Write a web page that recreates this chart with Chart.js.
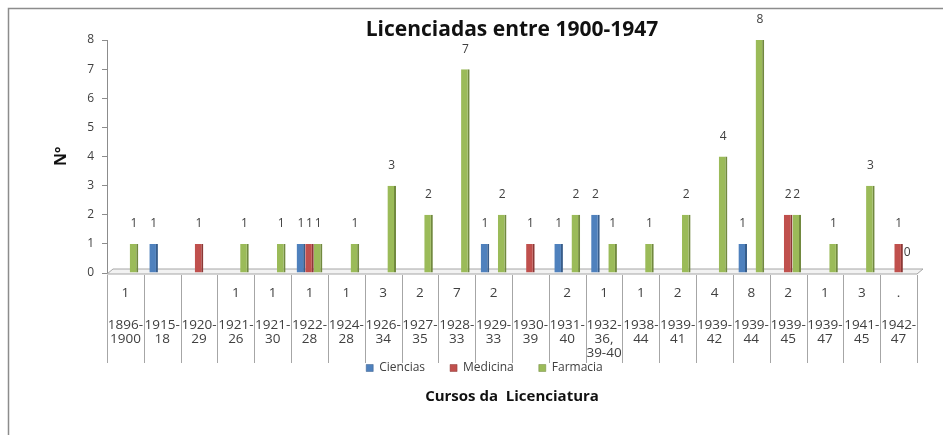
<!DOCTYPE html>
<html>
<head>
<meta charset="utf-8">
<script src="https://cdn.jsdelivr.net/npm/chart.js@4.4.1/dist/chart.umd.min.js"></script>
<style>
  html, body { margin: 0; padding: 0; background: #fff; }
  #wrap { width: 943px; height: 435px; }
</style>
</head>
<body>
<div id="wrap"><canvas id="chart"></canvas></div>
<script>
// cursos (periodos) - one column each in the data table
const cursos = [
  ["1896-", "1900"], ["1915-", "18"], ["1920-", "29"], ["1921-", "26"], ["1921-", "30"],
  ["1922-", "28"], ["1924-", "28"], ["1926-", "34"], ["1927-", "35"], ["1928-", "33"],
  ["1929-", "33"], ["1930-", "39"], ["1931-", "40"], ["1932-", "36,", "39-40"], ["1938-", "44"],
  ["1939-", "41"], ["1939-", "42"], ["1939-", "44"], ["1939-", "45"], ["1939-", "47"],
  ["1941-", "45"], ["1942-", "47"]
];
const ciencias = [null, 1, null, null, null, 1, null, null, null, null, 1, null, 1, 2, null, null, null, 1, null, null, null, null];
const medicina = [null, null, 1, null, null, 1, null, null, null, null, null, 1, null, null, null, null, null, null, 2, null, null, 1];
const farmacia = [1, null, null, 1, 1, 1, 1, 3, 2, 7, 2, null, 2, 1, 1, 2, 4, 8, 2, 1, 3, 0];
// row shown in the table under the axis
const tabela = ["1", "", "", "1", "1", "1", "1", "3", "2", "7", "2", "", "2", "1", "1", "2", "4", "8", "2", "1", "3", "."];
const yMin = 0, yMax = 8, yStep = 1;

const FONT = "'Open Sans', sans-serif";
const TXT = "#404040";
const LINE = "#a6a6a6";

const decor = {
  id: "decor",
  beforeDraw(chart) {
    const { ctx, width, height } = chart;
    ctx.save();
    ctx.fillStyle = "#fff";
    ctx.fillRect(0, 0, width, height);
    ctx.strokeStyle = "#8c8c8c";
    ctx.lineWidth = 1.5;
    ctx.beginPath();
    ctx.moveTo(8.5, height);
    ctx.lineTo(8.5, 8.5);
    ctx.lineTo(width, 8.5);
    ctx.stroke();
    ctx.restore();
  },
  beforeDatasetsDraw(chart) {
    // flat 3d floor
    const { ctx, chartArea: a, scales: { y } } = chart;
    const y0 = y.getPixelForValue(0);
    ctx.save();
    ctx.fillStyle = "#f2f2f2";
    ctx.strokeStyle = LINE;
    ctx.lineWidth = 1;
    ctx.beginPath();
    ctx.moveTo(a.left, y0 + 1);
    ctx.lineTo(a.right, y0 + 1);
    ctx.lineTo(a.right + 6, y0 - 4);
    ctx.lineTo(a.left + 6, y0 - 4);
    ctx.closePath();
    ctx.fill();
    ctx.stroke();
    ctx.restore();
  },
  afterDatasetsDraw(chart) {
    const { ctx } = chart;
    ctx.save();
    ctx.font = "12px " + FONT;
    ctx.fillStyle = TXT;
    ctx.textAlign = "center";
    ctx.textBaseline = "middle";
    chart.data.datasets.forEach((ds, i) => {
      chart.getDatasetMeta(i).data.forEach((bar, j) => {
        if (ds.data[j] === null) return;
        ctx.fillText(String(ds.data[j]), bar.x, bar.y - 20);
      });
    });
    ctx.restore();
  },
  afterDraw(chart) {
    const { ctx, chartArea: a, scales: { x, y } } = chart;
    const y0 = y.getPixelForValue(0);
    const step = x.getPixelForValue(1) - x.getPixelForValue(0);
    ctx.save();

    // table lines
    ctx.strokeStyle = LINE;
    ctx.lineWidth = 1;
    ctx.beginPath();
    for (let i = 0; i <= cursos.length; i++) {
      const px = Math.round(x.getPixelForValue(i) - step / 2) + 0.5;
      ctx.moveTo(px, y0 + 2);
      ctx.lineTo(px, y0 + 90);
    }
    ctx.stroke();

    // table text
    ctx.fillStyle = TXT;
    ctx.textAlign = "center";
    ctx.textBaseline = "middle";
    ctx.font = "13.5px " + FONT;
    cursos.forEach((c, i) => {
      const px = x.getPixelForValue(i);
      ctx.fillText(tabela[i], px, y0 + 20);
      c.forEach((line, k) => ctx.fillText(line, px, y0 + 52 + k * 14));
    });

    // titles
    const cx = (a.left + a.right) / 2;
    ctx.fillStyle = "#111";
    ctx.font = "bold 21px " + FONT;
    ctx.fillText("Licenciadas entre 1900-1947", cx, 30);
    ctx.font = "bold 15px " + FONT;
    ctx.fillText("Cursos da  Licenciatura", cx, 397);
    ctx.restore();
  }
};

const barStyle = (fill, side) => ({
  backgroundColor: fill,
  borderColor: side,
  borderWidth: { top: 0, right: 2, bottom: 0, left: 0 },
  categoryPercentage: 0.7,
  barPercentage: 1.0
});

new Chart(document.getElementById("chart"), {
  type: "bar",
  data: {
    labels: cursos.map((c) => c.join(" ")),
    datasets: [
      { label: "Ciencias", data: ciencias, ...barStyle("#4f81bd", "#385d8a") },
      { label: "Medicina", data: medicina, ...barStyle("#c0504d", "#8c3836") },
      { label: "Farmacia", data: farmacia, ...barStyle("#9bbb59", "#71893f") }
    ]
  },
  options: {
    responsive: true,
    maintainAspectRatio: false,
    animation: false,
    layout: { padding: { left: 52, right: 26, top: 40, bottom: 51 } },
    plugins: {
      tooltip: { enabled: false },
      legend: {
        position: "bottom",
        labels: {
          boxWidth: 7,
          boxHeight: 7,
          padding: 25,
          color: TXT,
          font: { size: 12, family: FONT }
        }
      }
    },
    scales: {
      x: {
        ticks: { display: false },
        grid: { display: false },
        border: { display: false },
        afterFit: (s) => { s.height = 64; }
      },
      y: {
        min: yMin,
        max: yMax,
        ticks: { stepSize: yStep, color: TXT, padding: 8, font: { size: 12, family: FONT } },
        grid: { drawOnChartArea: false, tickLength: 5, color: "#8c8c8c" },
        border: { color: "#8c8c8c" },
        title: { display: true, text: "Nº", color: "#111", padding: 0, font: { size: 16, weight: "bold", family: FONT } },
        afterFit: (s) => { s.width = 55; }
      }
    }
  },
  plugins: [decor]
});
</script>
</body>
</html>
